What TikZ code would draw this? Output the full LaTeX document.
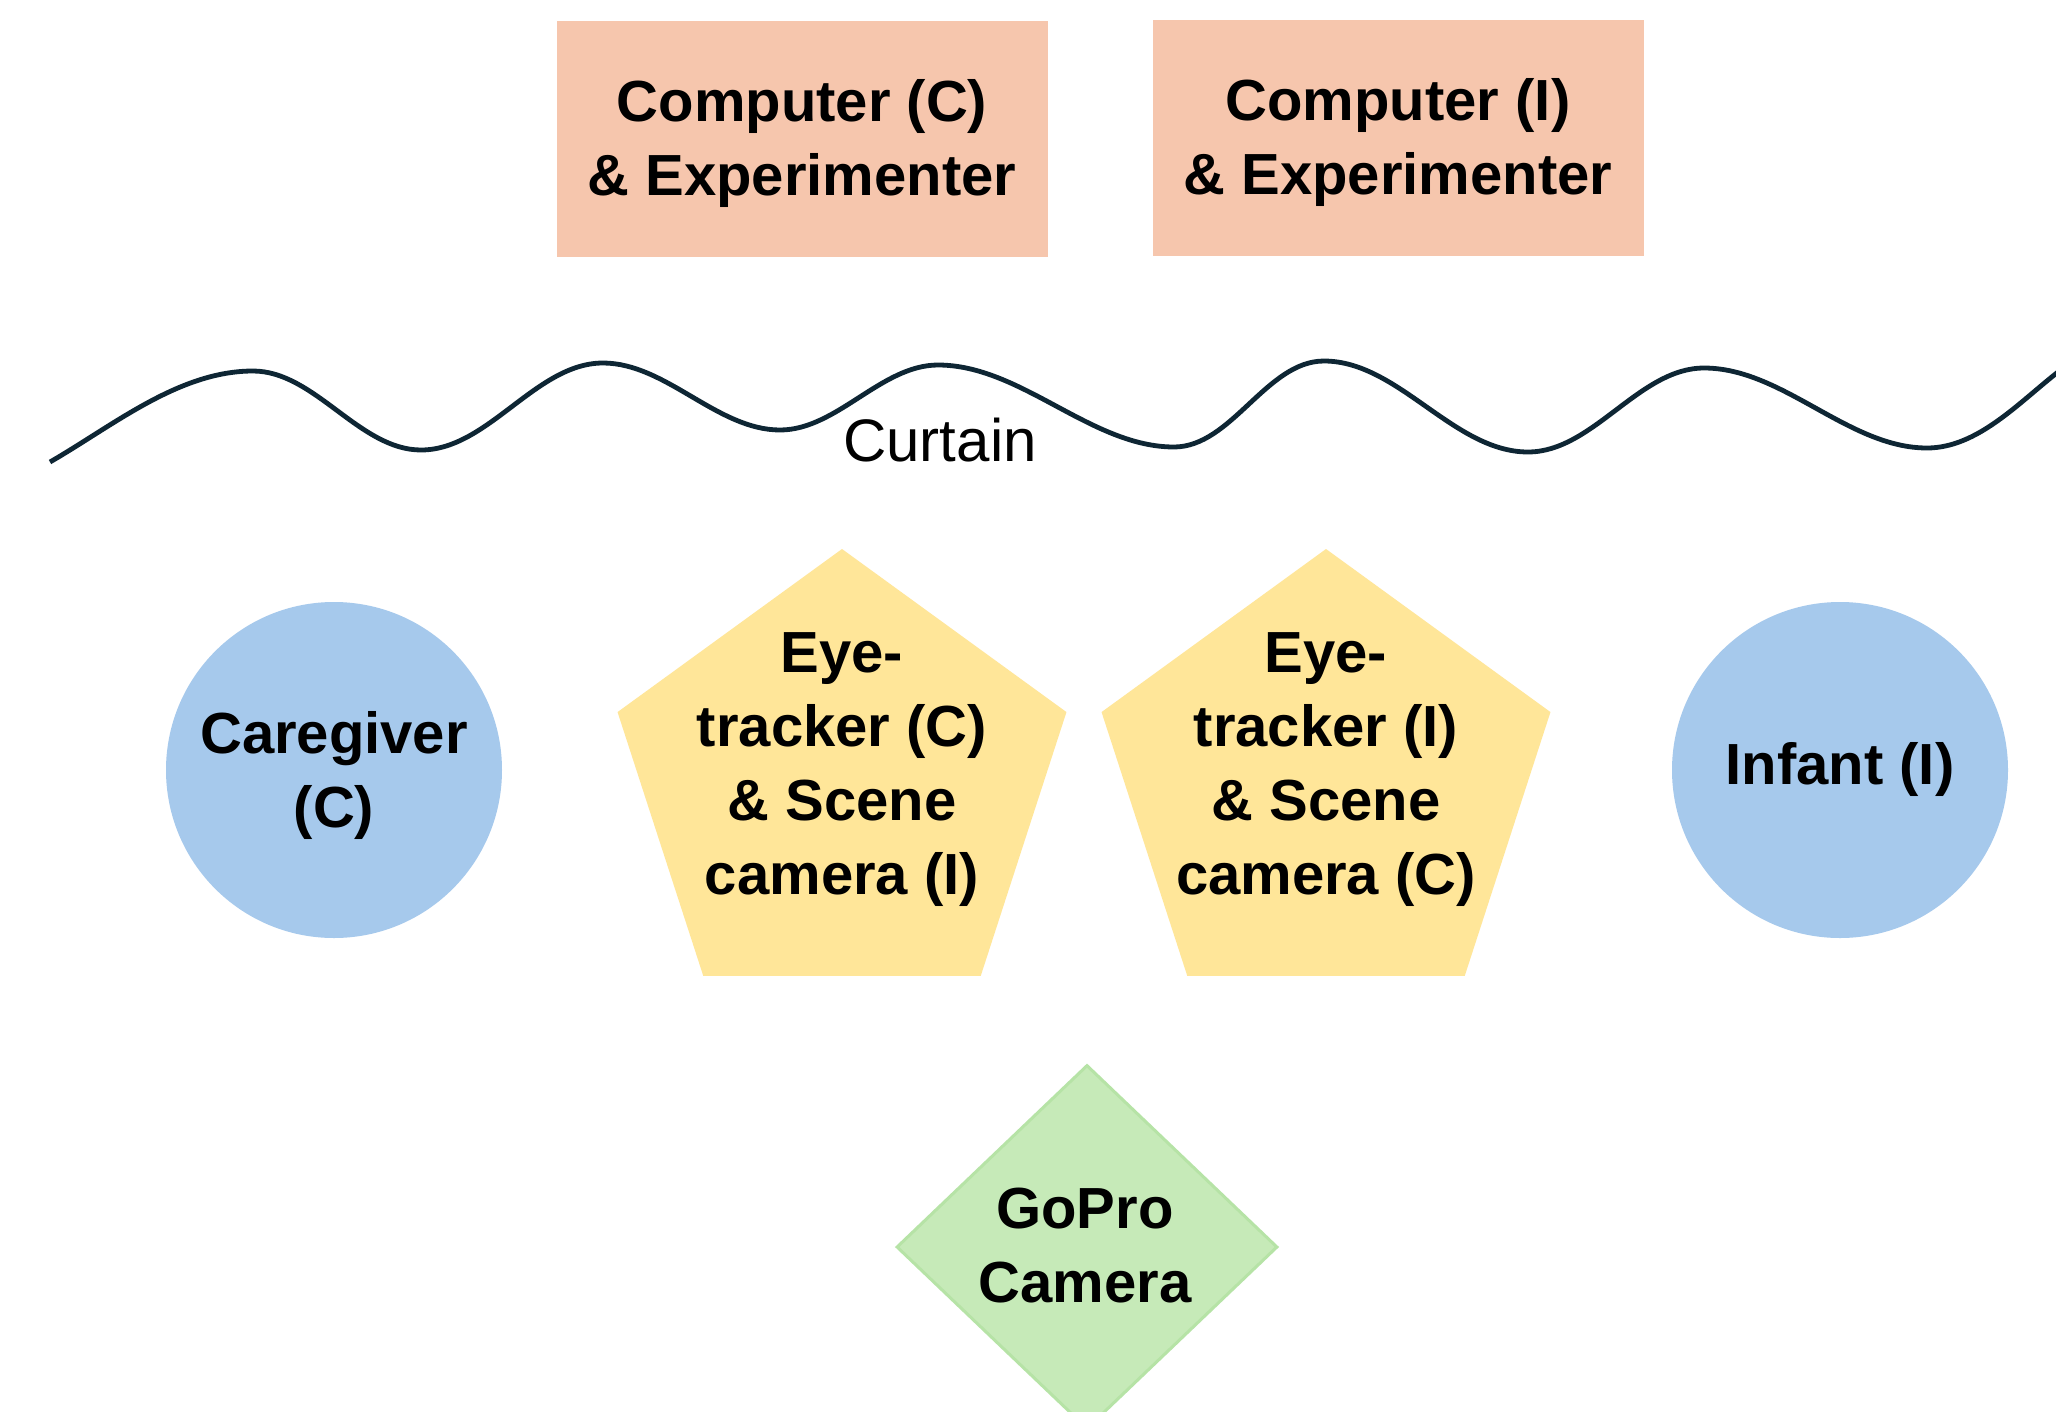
\documentclass[tikz,border=0pt]{standalone}
\usepackage{fontspec}
\setmainfont{Liberation Sans}
\usetikzlibrary{shapes.geometric}
\definecolor{peach}{RGB}{246,198,173}
\definecolor{skyblue}{RGB}{166,201,236}
\definecolor{gold}{RGB}{255,230,153}
\definecolor{mint}{RGB}{198,234,184}
\definecolor{mintedge}{RGB}{182,227,166}
\definecolor{navy}{RGB}{14,38,52}

\begin{document}
\begin{tikzpicture}[x=1pt,y=1pt,
  lbl/.style={font=\fontsize{58}{74}\selectfont\bfseries, align=center, text=black, inner sep=0pt},
  station/.style={rectangle, fill=peach, minimum width=491pt, minimum height=236pt, inner sep=0pt},
  person/.style={circle, fill=skyblue, minimum size=336pt, inner sep=0pt},
  tracker/.style={regular polygon, regular polygon sides=5, fill=gold, minimum size=472pt, inner sep=0pt},
  camshape/.style={diamond, fill=mint, draw=mintedge, line width=3pt, minimum width=381pt, minimum height=364pt, inner sep=0pt},
  curtain/.style={draw=navy, line width=4.8pt, looseness=0.85},
  curtainlbl/.style={font=\fontsize{60}{70}\selectfont, text=black, inner sep=0pt}
]
% page frame
\clip (0,0) rectangle (2056,-1411);
\fill[white] (0,0) rectangle (2056,-1411);

% control room
\node[station] (pcC) at (802,-139) {};
\node[lbl] (pcCt) at (802,-144) {Computer (C)\\\& Experimenter};
\node[station] (pcI) at (1398,-138) {};
\node[lbl] (pcIt) at (1398,-143) {Computer (I)\\\& Experimenter};

% curtain
\coordinate (c0) at (50,-462);
\coordinate (c1) at (253,-371);
\coordinate (c2) at (421,-450);
\coordinate (c3) at (603,-363);
\coordinate (c4) at (780,-430);
\coordinate (c5) at (938,-365);
\coordinate (c6) at (1174,-447);
\coordinate (c7) at (1324,-361);
\coordinate (c8) at (1528,-452);
\coordinate (c9) at (1704,-368);
\coordinate (c10) at (1927,-448);
\coordinate (c11) at (2058,-372);
\draw[curtain] (c0) to[out=30,in=180] (c1) to[out=0,in=180] (c2)
  to[out=0,in=180] (c3) to[out=0,in=180] (c4) to[out=0,in=180] (c5)
  to[out=0,in=180] (c6) to[out=0,in=180] (c7) to[out=0,in=180] (c8)
  to[out=0,in=180] (c9) to[out=0,in=180] (c10) to[out=0,in=218] (c11);
\node[curtainlbl, anchor=base] (curtainText) at (940,-461) {Curtain};

% participants
\node[person] (care) at (334,-770) {};
\node[lbl] (caret) at (334,-775) {Caregiver\\(C)};
\node[person] (inf) at (1840,-770) {};
\node[lbl] (inft) at (1840,-769) {Infant (I)};

% eye-trackers
\node[tracker] (etC) at (842,-785) {};
\node[lbl] (etCt) at (842,-770) {Eye-\\tracker (C)\\\& Scene\\camera (I)};
\node[tracker] (etI) at (1326,-785) {};
\node[lbl] (etIt) at (1326,-770) {Eye-\\tracker (I)\\\& Scene\\camera (C)};

% overview camera
\node[camshape] (gopro) at (1087,-1247) {};
\node[lbl] (goproText) at (1085,-1246) {GoPro\\Camera};
\end{tikzpicture}
\end{document}
